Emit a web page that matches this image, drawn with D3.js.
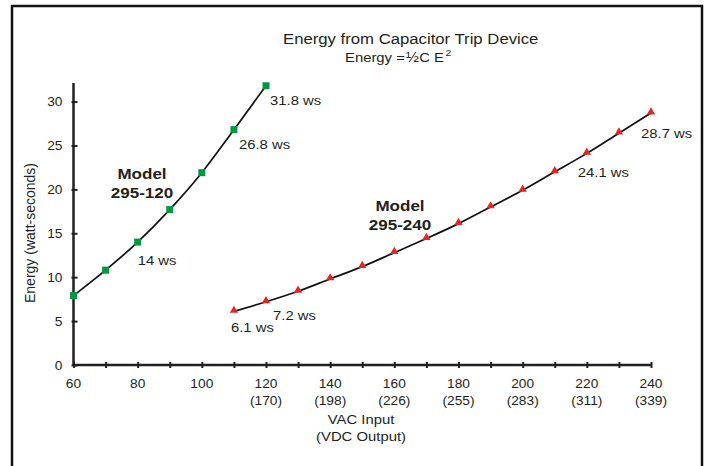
<!DOCTYPE html>
<html>
<head>
<meta charset="utf-8">
<script src="https://cdn.jsdelivr.net/npm/d3@7"></script>
<style>
  body { margin: 0; background: #fff; }
  text { font-family: "Liberation Sans", Arial, sans-serif; fill: #231f20; }
</style>
</head>
<body>
<div id="chart"></div>
<script>
// data
var voltsSmall = [60, 70, 80, 90, 100, 110, 120];
var energySmall = [7.9, 10.8, 14.0, 17.7, 21.9, 26.8, 31.8];

var voltsLarge = [110, 120, 130, 140, 150, 160, 170, 180, 190, 200, 210, 220, 230, 240];
var energyLarge = [6.1, 7.2, 8.4, 9.8, 11.2, 12.8, 14.4, 16.1, 18.0, 19.9, 22.0, 24.1, 26.4, 28.7];

var xTickLabels = [60, 80, 100, 120, 140, 160, 180, 200, 220, 240];
var dcLabels = ["", "", "", "(170)", "(198)", "(226)", "(255)", "(283)", "(311)", "(339)"];
var yTickLabels = [0, 5, 10, 15, 20, 25, 30];

// point labels: [series, index, text, dx, dy]
var pointNotes = [
    ["small", 2, "14 ws", 0, 23],
    ["small", 5, "26.8 ws", 5, 19],
    ["small", 6, "31.8 ws", 4, 19],
    ["large", 0, "6.1 ws", -3, 21],
    ["large", 1, "7.2 ws", 7, 18],
    ["large", 11, "24.1 ws", -9, 24],
    ["large", 13, "28.7 ws", -10, 25]
];

var svgWidth = 706;
var svgHeight = 466;
var SX = 1.1; // the original lettering is a little wide

var svg = d3.select("#chart")
    .append("svg")
    .attr("width", svgWidth)
    .attr("height", svgHeight);

// text helper, stretched a bit sideways
function label(parent, x, y, str, size, anchor, weight) {
    return parent.append("text")
        .attr("transform", `translate(${x},${y}) scale(${SX},1)`)
        .attr("text-anchor", anchor || "start")
        .attr("font-size", size)
        .attr("font-weight", weight || "normal")
        .text(str);
}

// frame
svg.append("rect")
    .attr("x", 12)
    .attr("y", 6)
    .attr("width", 690)
    .attr("height", 480)
    .attr("fill", "none")
    .attr("stroke", "#111")
    .attr("stroke-width", 2.5);

var xScale = d3.scaleLinear().domain([60, 240]).range([73.5, 651]);
var yScale = d3.scaleLinear().domain([0, 32]).range([365, 84]);

// axes
var xAxis = d3.axisBottom(xScale)
    .tickValues(d3.range(60, 241, 10))
    .tickSizeInner(0).tickSizeOuter(0)
    .tickFormat("");
var yAxis = d3.axisLeft(yScale)
    .tickValues(d3.range(0, 31, 5))
    .tickSizeInner(0).tickSizeOuter(0)
    .tickFormat("");

var gx = svg.append("g").attr("transform", "translate(0,365)").call(xAxis);
var gy = svg.append("g").attr("transform", "translate(73.5,0)").call(yAxis);
[gx, gy].forEach(function(g) {
    g.select(".domain").attr("stroke", "#231f20").attr("stroke-width", 2.5);
});
gx.selectAll(".tick line").attr("y1", -3).attr("y2", 3).attr("stroke", "#231f20").attr("stroke-width", 2);
gy.selectAll(".tick line").attr("x1", -2).attr("x2", 4).attr("stroke", "#231f20").attr("stroke-width", 2);
gx.select(".domain").attr("d", "M73.5,0H651");
gy.select(".domain").attr("d", "M0,365V83");

// tick labels
var ty = svg.append("g");
yTickLabels.forEach(function(d) {
    label(ty, 62.5, yScale(d) + 4.5, d, 12.5, "end");
});
var tx = svg.append("g");
xTickLabels.forEach(function(d, i) {
    label(tx, xScale(d), 388, d, 12.5, "middle");
    if (dcLabels[i]) label(tx, xScale(d), 405, dcLabels[i], 12.5, "middle");
});

// axis titles
label(svg, 361, 424, "VAC Input", 13.5, "middle");
label(svg, 361, 441, "(VDC Output)", 13.5, "middle");
svg.append("text")
    .attr("transform", "translate(35,233) rotate(-90)")
    .attr("text-anchor", "middle")
    .attr("font-size", 14)
    .text("Energy (watt-seconds)");

// title
label(svg, 283, 44, "Energy from Capacitor Trip Device", 15.2, "start");
var formula = label(svg, 345, 62, "", 13.5, "start");
formula.append("tspan").text("Energy =");
formula.append("tspan").attr("font-size", 14).attr("dx", 1).text("½");
formula.append("tspan").attr("dx", 0.5).text("C");
formula.append("tspan").attr("dx", 3.5).text("E");
formula.append("tspan").attr("font-size", 9.5).attr("dx", 1.5).attr("dy", -6).text("2");

// lines
var line = d3.line()
    .x(d => xScale(d[0]))
    .y(d => yScale(d[1]))
    .curve(d3.curveMonotoneX);

var small = voltsSmall.map((v, i) => [v, energySmall[i]]);
var large = voltsLarge.map((v, i) => [v, energyLarge[i]]);

svg.append("path").datum(small).attr("d", line)
    .attr("fill", "none").attr("stroke", "#111").attr("stroke-width", 1.7);
svg.append("path").datum(large).attr("d", line)
    .attr("fill", "none").attr("stroke", "#111").attr("stroke-width", 1.7);

// markers
svg.append("g").selectAll("rect")
    .data(small)
    .enter()
    .append("rect")
    .attr("x", d => xScale(d[0]) - 3.5)
    .attr("y", d => yScale(d[1]) - 3.5)
    .attr("width", 7)
    .attr("height", 7)
    .attr("fill", "#009845");

svg.append("g").selectAll("path")
    .data(large)
    .enter()
    .append("path")
    .attr("d", d3.symbol().type(d3.symbolTriangle).size(30))
    .attr("transform", d => `translate(${xScale(d[0])},${yScale(d[1]) - 1})`)
    .attr("fill", "#e32524");

// point labels
var notes = svg.append("g");
pointNotes.forEach(function(d) {
    var s = d[0] == "small" ? small : large;
    label(notes, xScale(s[d[1]][0]) + d[3], yScale(s[d[1]][1]) + d[4], d[2], 13.5, "start");
});

// model labels
var models = [["Model", 142, 179], ["295-120", 142, 198], ["Model", 400, 211], ["295-240", 400, 230]];
var ml = svg.append("g");
models.forEach(function(d) {
    label(ml, d[1], d[2], d[0], 15.5, "middle", "bold");
});
</script>
</body>
</html>
